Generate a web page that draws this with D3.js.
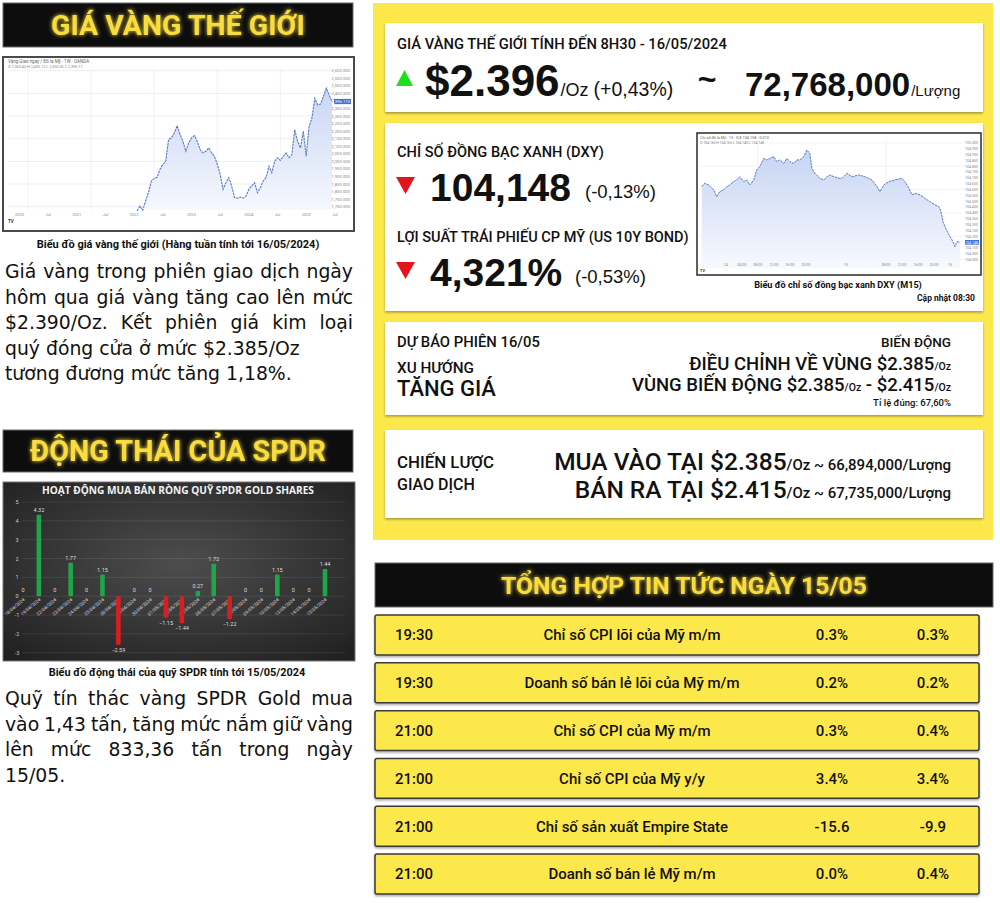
<!DOCTYPE html>
<html><head><meta charset="utf-8">
<script src="https://cdn.jsdelivr.net/npm/d3@7"></script>
<style>
body{margin:0;background:#fff;}
svg{display:block;font-family:Roboto,"Noto Sans",sans-serif;}
</style></head><body>
<svg id="c" width="1000" height="903"></svg>
<script>
// ---------------- DATA ----------------
const goldPrice = [1672,1705,1677,1738,1795,1870,1887,1894,1947,1979,
 2001,2144,2155,2188,2236,2177,2133,2067,2122,2155,
 2170,2133,2078,2056,2067,2089,2056,2034,1979,1914,
 1815,1859,1892,1837,1760,1756,1764,1756,1771,1815,
 1837,1859,1793,1826,1870,1892,1968,1925,2001,2024,
 2006,2034,2056,2024,2045,2210,2133,2089,2199,2034,
 2231,2287,2418,2374,2379,2429,2484,2440,2396];
const goldWeeksShown = 113;
const goldYTicks = [1700,1750,1800,1850,1900,1950,2000,2050,2100,2150,2200,2250,2300,2350,2400,2450,2500,2550,2600];
const goldGridTicks = [1700,1850,2000,2150,2300,2450,2600];
const goldXLabels = ["2020","Jul","2021","Jul","2022","Jul","2023","Jul","2024","Jul","2025","Jul"];

const dxyHour = [0,0.75,1.75,3,3.75,4.5,5.5,6.25,7,8,8.75,9.5,10.5,11.25,12,13,13.75,14.5,15.5,16.25,
 17,18,18.75,19.5,20.5,21.25,22,23,23.75,24.5,25.5,26.25,27,27.5,28.25,29.5,30.5,31.25,32,33,34.25,
 35,36.25,37.5,39.25,40.75,42.5,43.75,44.5,45.5,46.75,48.25,50,50.75,51.75,52.5,53.25,54.5,55.75,57,58.25,
 59.25,59.75,60.25,60.75,61.75,62.5,63.25,63.75,64.5];
const dxyValue = [104.626,104.654,104.640,104.597,104.540,104.583,104.597,104.626,104.640,104.669,
 104.683,104.711,104.669,104.683,104.640,104.683,104.769,104.797,104.868,104.855,
 104.868,104.883,104.840,104.855,104.825,104.868,104.840,104.825,104.855,104.855,
 104.883,104.940,104.911,104.783,104.740,104.697,104.683,104.711,104.726,104.711,
 104.697,104.697,104.740,104.711,104.726,104.711,104.683,104.626,104.583,104.640,
 104.669,104.683,104.697,104.669,104.611,104.555,104.568,104.555,104.525,104.497,
 104.469,104.454,104.411,104.326,104.283,104.211,104.169,104.111,104.154,104.148];
const dxyYTicks = [104.00,104.05,104.10,104.15,104.20,104.25,104.30,104.35,104.40,104.45,104.50,104.55,104.60,104.65,104.70,104.75,104.80,104.85,104.90,104.95,105.00];
const dxyXTicks = [6,10,14,18,22,26,36,46,50,54,58,62];
const dxyXLabels = ["14","04:00","08:00","12:00","16:00","20:00","15","08:00","12:00","16:00","20:00","16"];

const spdrDates = ["18/04/2024","19/04/2024","22/04/2024","23/04/2024","24/04/2024","25/04/2024","26/04/2024","29/04/2024","30/04/2024","01/05/2024",
 "02/05/2024","03/05/2024","06/05/2024","07/05/2024","08/05/2024","09/05/2024","10/05/2024","13/05/2024","14/05/2024","15/05/2024"];
const spdrValue = [0,4.32,0,1.77,0,1.15,-2.59,0,0,-1.15,-1.44,0.27,1.72,-1.22,0,0,1.15,0,0,1.44];
const spdrYTicks = [-3,-2,-1,0,1,2,3,4,5];

const newsTime = ["19:30","19:30","21:00","21:00","21:00","21:00"];
const newsEvent = ["Chỉ số CPI lõi của Mỹ m/m","Doanh số bán lẻ lõi của Mỹ m/m","Chỉ số CPI của Mỹ m/m","Chỉ số CPI của Mỹ y/y","Chỉ số sản xuất Empire State","Doanh số bán lẻ Mỹ m/m"];
const newsActual = ["0.3%","0.2%","0.3%","3.4%","-15.6","0.0%"];
const newsForecast = ["0.3%","0.2%","0.4%","3.4%","-9.9","0.4%"];

// ---------------- HELPERS ----------------
const svg = d3.select('#c');
const defs = svg.append('defs');
const glow = defs.append('filter').attr('id','glow').attr('x','-20%').attr('y','-60%').attr('width','140%').attr('height','220%');
glow.append('feGaussianBlur').attr('in','SourceGraphic').attr('stdDeviation',2.2).attr('result','b');
const gm = glow.append('feMerge');
gm.append('feMergeNode').attr('in','b'); gm.append('feMergeNode').attr('in','SourceGraphic');
const shadow = defs.append('filter').attr('id','sh').attr('x','-5%').attr('y','-20%').attr('width','110%').attr('height','150%');
shadow.append('feDropShadow').attr('dx',0).attr('dy',1.5).attr('stdDeviation',1.2).attr('flood-color','#000').attr('flood-opacity',0.35);

function T(g,x,y,s,o={}){
  const t=g.append('text').attr('x',x).attr('y',y).text(s)
    .attr('font-size',o.fs||12).attr('font-weight',o.fw||400)
    .attr('fill',o.fill||'#111').attr('text-anchor',o.anchor||'start');
  if(o.ff) t.attr('font-family',o.ff);
  if(o.ls) t.attr('letter-spacing',o.ls);
  if(o.w){const cur=t.node().getComputedTextLength();t.attr('font-size',(o.fs||12)*o.w/cur);}
  return t;
}
function banner(x,y,w,h,s,fs,tw){
  svg.append('rect').attr('x',x).attr('y',y).attr('width',w).attr('height',h).attr('fill','#0d0d0d').attr('stroke','#6a6a6a').attr('stroke-width',1);
  const t=T(svg,x+w/2,y+h/2+fs*0.36,s,{fs:fs,fw:700,fill:'#f9dc3c',anchor:'middle',w:tw});
  t.attr('filter','url(#glow)');
}
const bodyFont='"DejaVu Sans",sans-serif';
// body font size chosen so the last line of the first paragraph matches the reference width
const probe=T(svg,-500,-50,"tương đương mức tăng 1,18%.",{fs:18,ff:bodyFont});
const bodyFs=18*287/probe.node().getComputedTextLength();
probe.remove();
function justified(lines,x0,x1,y0,lh,fs,justifyIdx){
  lines.forEach((line,i)=>{
    const y=y0+i*lh;
    if(!justifyIdx.includes(i)){T(svg,x0,y,line,{fs:fs,fill:'#111',ff:bodyFont});return;}
    const words=line.split(' ');
    const ts=words.map(w=>T(svg,0,y,w,{fs:fs,fill:'#111',ff:bodyFont}));
    const ws=ts.map(t=>t.node().getComputedTextLength());
    const gap=(x1-x0-d3.sum(ws))/(words.length-1);
    let x=x0; ts.forEach((t,j)=>{t.attr('x',x);x+=ws[j]+gap;});
  });
}

// ---------------- LEFT COLUMN ----------------
banner(3,3,350,44,"GIÁ VÀNG THẾ GIỚI",27,254);

// gold chart frame
(function(){
  const fx=3,fy=57,fw=351,fh=174;
  svg.append('rect').attr('x',fx).attr('y',fy).attr('width',fw).attr('height',fh).attr('fill','#fff').attr('stroke','#4a4a4a').attr('stroke-width',2);
  const n=goldPrice.length;
  const x=d3.scaleLinear().domain([n-1-goldWeeksShown,n-1]).range([8,332]);
  const y=d3.scaleLinear().domain([1700,2600]).range([206.7,70.7]);
  const g=svg.append('g');
  g.selectAll('.gh').data(goldGridTicks).join('line').attr('x1',8).attr('x2',333).attr('y1',d=>y(d)).attr('y2',d=>y(d)).attr('stroke','#e6e9f0').attr('stroke-width',0.8);
  const vx=[-38,-16,6,28,50];
  g.selectAll('.gv').data(vx).join('line').attr('x1',d=>x(d)).attr('x2',d=>x(d)).attr('y1',68).attr('y2',210).attr('stroke','#eceef3').attr('stroke-width',0.8);
  const grad=defs.append('linearGradient').attr('id','gg').attr('x1',0).attr('x2',0).attr('y1',0).attr('y2',1);
  grad.append('stop').attr('offset','0%').attr('stop-color','#c9d6f4');
  grad.append('stop').attr('offset','100%').attr('stop-color','#f6f8fd');
  const area=d3.area().x((d,i)=>x(i)).y0(210).y1(d=>y(d));
  g.append('path').datum(goldPrice).attr('d',area).attr('fill','url(#gg)');
  const line=d3.line().x((d,i)=>x(i)).y(d=>y(d));
  g.append('path').datum(goldPrice).attr('d',line).attr('fill','none').attr('stroke','#5a7cc4').attr('stroke-width',1.1).attr('stroke-dasharray','2.5,0.8');
  g.selectAll('.gl').data(goldYTicks).join('text').attr('x',350).attr('y',d=>y(d)+1.5).attr('text-anchor','end').attr('font-size',4.2).attr('fill','#888').text(d=>d3.format(',.3f')(d));
  g.append('rect').attr('x',334).attr('y',y(2396)-2.6).attr('width',17).attr('height',5.2).attr('fill','#3b6fd6');
  g.append('text').attr('x',350).attr('y',y(2396)+1.5).attr('text-anchor','end').attr('font-size',4.2).attr('fill','#fff').text('2,396.110');
  const xt=d3.range(goldXLabels.length).map(i=>n-1-goldWeeksShown+4+i*10);
  g.selectAll('.gx').data(goldXLabels).join('text').attr('x',(d,i)=>x(xt[i])).attr('y',216).attr('text-anchor','middle').attr('font-size',4).attr('fill','#888').text(d=>d);
  T(g,8,63,"Vàng Giao ngay / Đô la Mỹ · 1W · OANDA",{fs:4.5,fill:'#666'});
  T(g,8,68,"O 2,360.45  H 2,400.12  L 2,350.06  C 2,396.11",{fs:3.8,fill:'#888'});
  T(g,8,223,"TV  ",{fs:4.5,fw:700,fill:'#333'});
})();

T(svg,178,248,"Biểu đồ giá vàng thế giới (Hàng tuần tính tới 16/05/2024)",{fs:9.5,fw:700,anchor:'middle',w:283});

justified(["Giá vàng trong phiên giao dịch ngày","hôm qua giá vàng tăng cao lên mức","$2.390/Oz. Kết phiên giá kim loại","quý đóng cửa ở mức $2.385/Oz","tương đương mức tăng 1,18%."],5,353,278,25.5,bodyFs,[0,1,2]);

banner(3,430,350,42,"ĐỘNG THÁI CỦA SPDR",27,296);

// SPDR chart
(function(){
  const fx=3,fy=482,fw=352,fh=179;
  const rg=defs.append('radialGradient').attr('id','sg').attr('cx','50%').attr('cy','45%').attr('r','75%');
  rg.append('stop').attr('offset','0%').attr('stop-color','#4d4d4d');
  rg.append('stop').attr('offset','100%').attr('stop-color','#1e1e1e');
  svg.append('rect').attr('x',fx).attr('y',fy).attr('width',fw).attr('height',fh).attr('fill','url(#sg)').attr('stroke','#777').attr('stroke-width',1);
  const g=svg.append('g');
  T(g,178,494,"HOẠT ĐỘNG MUA BÁN RÒNG QUỸ SPDR GOLD SHARES",{fs:8.5,fw:700,fill:'#f2f2f2',anchor:'middle',ff:'"Open Sans",sans-serif',w:272});
  const y=d3.scaleLinear().domain([-3,5]).range([652.7,502]);
  const x=d3.scalePoint().domain(spdrDates).range([23,325]);
  g.selectAll('.sl').data(spdrYTicks).join('line').attr('x1',22).attr('x2',345).attr('y1',d=>y(d)).attr('y2',d=>y(d)).attr('stroke','rgba(255,255,255,0.13)').attr('stroke-width',0.7);
  g.selectAll('.st').data(spdrYTicks).join('text').attr('x',17).attr('y',d=>y(d)+2).attr('text-anchor','middle').attr('font-size',5.5).attr('fill','#ccc').text(d=>d);
  g.selectAll('.sd').data(spdrDates).join('text').attr('transform',d=>`translate(${x(d)+2},${y(0)+4}) rotate(-40)`).attr('text-anchor','end').attr('font-size',4.6).attr('fill','#ddd').text(d=>d);
  const bw=4.6;
  g.selectAll('.sb').data(spdrValue.map((v,i)=>({v,d:spdrDates[i]})).filter(o=>o.v!==0)).join('rect')
    .attr('x',o=>x(o.d)-bw/2).attr('width',bw).attr('y',o=>y(Math.max(0,o.v))).attr('height',o=>Math.abs(y(o.v)-y(0)))
    .attr('rx',1).attr('fill',o=>o.v>0?'#1fa64b':'#d71f22');
  g.selectAll('.sv').data(spdrValue.map((v,i)=>({v,d:spdrDates[i]}))).join('text')
    .attr('x',o=>x(o.d)).attr('y',o=>o.v>0?y(o.v)-3:(o.v<0?y(o.v)+7:y(0)-4)).attr('text-anchor','middle').attr('font-size',5.5).attr('fill','#ddd')
    .text(o=>o.v===0?'0':d3.format('.2f')(o.v));
})();

T(svg,177,676,"Biểu đồ động thái của quỹ SPDR tính tới 15/05/2024",{fs:9.5,fw:700,anchor:'middle',w:257});

justified(["Quỹ tín thác vàng SPDR Gold mua","vào 1,43 tấn, tăng mức nắm giữ vàng","lên mức 833,36 tấn trong ngày","15/05."],5,353,705,25.7,bodyFs,[0,1,2]);

// ---------------- RIGHT COLUMN ----------------
svg.append('rect').attr('x',373).attr('y',3).attr('width',620).attr('height',537).attr('fill','#fde84c');
[[385,23,598,89],[385,123,598,188],[385,322,598,93],[385,430,598,88]].forEach(b=>{
  svg.append('rect').attr('x',b[0]).attr('y',b[1]).attr('width',b[2]).attr('height',b[3]).attr('fill','#fff').attr('filter','url(#sh)');
});

// box 1
T(svg,397,49,"GIÁ VÀNG THẾ GIỚI TÍNH ĐẾN 8H30 - 16/05/2024",{fs:13.5,fw:500,w:330});
svg.append('path').attr('d',d3.line()([[396,86],[413,86],[404.5,70]])+'Z').attr('fill','#1ee01e');
(function(){
  const t=svg.append('text').attr('x',425).attr('y',96).attr('fill','#111').attr('font-family','"Liberation Sans",Arial,sans-serif');
  t.append('tspan').attr('font-size',44).attr('font-weight',700).text('$2.396');
  t.append('tspan').attr('font-size',18).attr('dx',1).text('/Oz');
  t.append('tspan').attr('font-size',19.5).attr('dx',5).text('(+0,43%)');
  T(svg,707,90,"~",{fs:32,fw:700,anchor:'middle',ff:'"Liberation Sans",Arial'});
  const t2=svg.append('text').attr('x',745).attr('y',96).attr('fill','#111').attr('font-family','"Liberation Sans",Arial,sans-serif');
  t2.append('tspan').attr('font-size',33).attr('font-weight',700).text('72,768,000');
  t2.append('tspan').attr('font-size',15).attr('dx',1).text('/Lượng');
})();

// box 2
T(svg,397,157,"CHỈ SỐ ĐỒNG BẠC XANH (DXY)",{fs:13.5,fw:500,w:207});
svg.append('path').attr('d',d3.line()([[396,177],[415,177],[405.5,194]])+'Z').attr('fill','#e3141b');
T(svg,430,201,"104,148",{fs:39,fw:700,ff:'"Liberation Sans",Arial'});
T(svg,585,198,"(-0,13%)",{fs:18.5,ff:'"Liberation Sans",Arial'});
T(svg,397,242,"LỢI SUẤT TRÁI PHIẾU CP MỸ (US 10Y BOND)",{fs:13.5,fw:500,w:292});
svg.append('path').attr('d',d3.line()([[396,262],[415,262],[405.5,279]])+'Z').attr('fill','#e3141b');
T(svg,430,286,"4,321%",{fs:39,fw:700,ff:'"Liberation Sans",Arial'});
T(svg,575,283,"(-0,53%)",{fs:18.5,ff:'"Liberation Sans",Arial'});

// DXY chart
(function(){
  svg.append('rect').attr('x',697).attr('y',133).attr('width',284).attr('height',142).attr('fill','#fff').attr('stroke','#2a2a2a').attr('stroke-width',1.5);
  const x=d3.scaleLinear().domain([0,64.5]).range([701.7,960]);
  const y=d3.scaleLinear().domain([104,105]).range([259.6,143]);
  const g=svg.append('g');
  g.selectAll('.dh').data(dxyYTicks.filter((d,i)=>i%4===0)).join('line').attr('x1',699).attr('x2',965).attr('y1',d=>y(d)).attr('y2',d=>y(d)).attr('stroke','#edf0f5').attr('stroke-width',0.8);
  g.selectAll('.dv').data([14,46]).join('line').attr('x1',d=>x(d)).attr('x2',d=>x(d)).attr('y1',140).attr('y2',268).attr('stroke','#eceef3').attr('stroke-width',0.8);
  const grad=defs.append('linearGradient').attr('id','dg').attr('x1',0).attr('x2',0).attr('y1',0).attr('y2',1);
  grad.append('stop').attr('offset','0%').attr('stop-color','#c6d4f4');
  grad.append('stop').attr('offset','100%').attr('stop-color','#f7f9fd');
  const pts=dxyValue.map((v,i)=>[dxyHour[i],v]);
  g.append('path').datum(pts).attr('d',d3.area().x(d=>x(d[0])).y0(268).y1(d=>y(d[1]))).attr('fill','url(#dg)');
  g.append('path').datum(pts).attr('d',d3.line().x(d=>x(d[0])).y(d=>y(d[1]))).attr('fill','none').attr('stroke','#5a7cc4').attr('stroke-width',1).attr('stroke-dasharray','2.5,0.8');
  g.selectAll('.dl').data(dxyYTicks).join('text').attr('x',978).attr('y',d=>y(d)+1.3).attr('text-anchor','end').attr('font-size',3.6).attr('fill','#888').text(d=>d3.format('.3f')(d));
  g.append('rect').attr('x',965).attr('y',y(104.148)-2.3).attr('width',14).attr('height',4.6).attr('fill','#3b6fd6');
  g.append('text').attr('x',978).attr('y',y(104.148)+1.3).attr('text-anchor','end').attr('font-size',3.6).attr('fill','#fff').text('104.148');
  g.selectAll('.dx').data(dxyXTicks).join('text').attr('x',d=>x(d)).attr('y',266).attr('text-anchor','middle').attr('font-size',3.6).attr('fill','#888').text((d,i)=>dxyXLabels[i]);
  T(g,700,139,"Chỉ số đô la Mỹ · 15 · ICE  104.158  −0.010",{fs:3.8,fill:'#666'});
  T(g,700,144,"O 104.160  H 104.165  L 104.140  C 104.148",{fs:3.4,fill:'#888'});
  T(g,700,272,"TV",{fs:3.8,fw:700,fill:'#333'});
})();
T(svg,838,288,"Biểu đồ chỉ số đồng bạc xanh DXY (M15)",{fs:8,fw:700,anchor:'middle',w:168});
T(svg,975,301,"Cập nhật 08:30",{fs:8,fw:700,anchor:'end',w:58});

// box 3
T(svg,397,347,"DỰ BÁO PHIÊN 16/05",{fs:13.5,fw:500,w:143});
T(svg,397,373,"XU HƯỚNG",{fs:13.5,fw:500,w:77});
T(svg,397,396,"TĂNG GIÁ",{fs:21,fw:500,w:99});
T(svg,951,347,"BIẾN ĐỘNG",{fs:13.5,fw:500,anchor:'end'});
(function(){
  const t=svg.append('text').attr('x',951).attr('y',370).attr('text-anchor','end').attr('fill','#111').attr('font-weight',500);
  t.append('tspan').attr('font-size',18.5).text('ĐIỀU CHỈNH VỀ VÙNG $2.385');
  t.append('tspan').attr('font-size',10.5).text('/Oz');
  const t2=svg.append('text').attr('x',951).attr('y',391).attr('text-anchor','end').attr('fill','#111').attr('font-weight',500);
  t2.append('tspan').attr('font-size',18.5).text('VÙNG BIẾN ĐỘNG $2.385');
  t2.append('tspan').attr('font-size',10.5).text('/Oz');
  t2.append('tspan').attr('font-size',18.5).text(' - $2.415');
  t2.append('tspan').attr('font-size',10.5).text('/Oz');
})();
T(svg,951,406,"Tỉ lệ đúng: 67,60%",{fs:9.5,fw:500,anchor:'end'});

// box 4
T(svg,397,468,"CHIẾN LƯỢC",{fs:14,fw:500,w:97});
T(svg,397,490,"GIAO DỊCH",{fs:14,fw:500,w:78});
(function(){
  const t=svg.append('text').attr('x',951).attr('y',470).attr('text-anchor','end').attr('fill','#111').attr('font-weight',500);
  t.append('tspan').attr('font-size',24.5).text('MUA VÀO TẠI $2.385');
  t.append('tspan').attr('font-size',15).text('/Oz ~ 66,894,000/Lượng');
  const t2=svg.append('text').attr('x',951).attr('y',498).attr('text-anchor','end').attr('fill','#111').attr('font-weight',500);
  t2.append('tspan').attr('font-size',24.5).text('BÁN RA TẠI $2.415');
  t2.append('tspan').attr('font-size',15).text('/Oz ~ 67,735,000/Lượng');
})();

// news banner + rows
banner(375,563,618,44,"TỔNG HỢP TIN TỨC NGÀY 15/05",25,366);
(function(){
  const y=d3.scaleBand().domain(d3.range(newsTime.length)).range([615,894]).paddingInner(0.165).paddingOuter(0);
  const rows=svg.selectAll('.nr').data(newsTime.map((t,i)=>i)).join('g');
  rows.append('rect').attr('x',375).attr('y',i=>y(i)).attr('width',604).attr('height',y.bandwidth()).attr('rx',2)
    .attr('fill','#fde84c').attr('stroke','#3a3a3a').attr('stroke-width',1.5).attr('filter','url(#sh)');
  const cy=i=>y(i)+y.bandwidth()/2+5.3;
  rows.append('text').attr('x',395).attr('y',cy).attr('font-size',15).attr('font-weight',500).attr('fill','#111').text(i=>newsTime[i]);
  rows.append('text').attr('x',632).attr('y',cy).attr('text-anchor','middle').attr('font-size',15).attr('font-weight',500).attr('fill','#111').text(i=>newsEvent[i]);
  rows.append('text').attr('x',832).attr('y',cy).attr('text-anchor','middle').attr('font-size',15).attr('font-weight',500).attr('fill','#111').text(i=>newsActual[i]);
  rows.append('text').attr('x',933).attr('y',cy).attr('text-anchor','middle').attr('font-size',15).attr('font-weight',500).attr('fill','#111').text(i=>newsForecast[i]);
})();
</script></body></html>
